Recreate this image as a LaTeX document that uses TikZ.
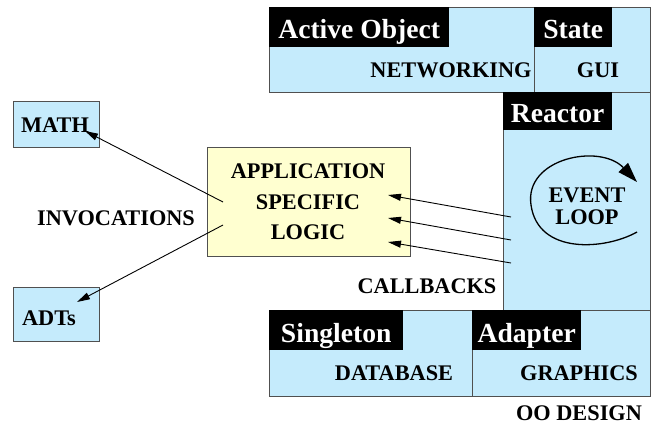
\documentclass[tikz,border=0pt]{standalone}
\usepackage{fontspec}
\setmainfont{Liberation Serif}
\usetikzlibrary{arrows.meta}
\definecolor{pblue}{RGB}{197,235,252}
\definecolor{pyellow}{RGB}{255,255,208}
\definecolor{pedge}{RGB}{80,80,80}
\tikzset{
  region/.style={draw=pedge, line width=1pt, fill=pblue, anchor=north west, inner sep=0pt},
  tag/.style={fill=black, text=white, anchor=north west, inner sep=0pt, minimum height=40pt,
    text height=31pt, text depth=9pt,
    font=\fontsize{27.6}{30}\selectfont\bfseries},
  txt/.style={inner sep=0pt, font=\fontsize{22.3}{26}\selectfont\bfseries},
  conn/.style={line width=0.9pt, -{Triangle[length=13pt,width=7pt]}},
}
\begin{document}
\begin{tikzpicture}[x=1pt,y=-1pt]
\useasboundingbox (0,0) rectangle (660,429);
% regions
\node[region, minimum width=265pt, minimum height=85pt] (ao) at (269,7) {};
\node[region, minimum width=116pt, minimum height=85pt] (st) at (534,7) {};
\node[region, minimum width=147pt, minimum height=218pt] (re) at (503,92) {};
\node[region, minimum width=203pt, minimum height=86pt] (si) at (269,310) {};
\node[region, minimum width=178pt, minimum height=86pt] (ad) at (472,310) {};
% tags
\node[tag, minimum width=180pt] (aotag) at (269,7) {Active Object};
\node[tag, minimum width=78pt] (sttag) at (534,7) {State};
\node[tag, minimum width=109pt, minimum height=38pt, text height=30pt, text depth=8pt] (retag) at (503,92) {Reactor};
\node[tag, minimum width=134pt, text height=32pt, text depth=8pt] (sitag) at (269,310) {Singleton};
\node[tag, minimum width=109pt, text height=32pt, text depth=8pt] (adtag) at (472,310) {Adapter};
% region texts
\node[txt] (net) at (451,70) {NETWORKING};
\node[txt] (gui) at (598,70) {GUI};
\node[txt] (db) at (394,373) {DATABASE};
\node[txt] (gr) at (579,373) {GRAPHICS};
\node[txt] (oo) at (579,413) {OO DESIGN};
\node[txt, align=center, font=\fontsize{22.3}{22.3}\selectfont\bfseries] (ev) at (587,206) {EVENT\\LOOP};
% application box
\node[draw=pedge, line width=1pt, fill=pyellow, minimum width=203pt, minimum height=109pt, inner sep=0pt] (app) at (308.5,201.5) {};
\node[txt] (l1) at (308,171) {APPLICATION};
\node[txt] (l2) at (308,202) {SPECIFIC};
\node[txt] (l3) at (308,232) {LOGIC};
% side boxes
\node[draw=pedge, line width=1pt, fill=pblue, minimum width=86pt, minimum height=46pt, inner sep=0pt] (math) at (56,124) {};
\node[txt] (mtx) at (55,125) {MATH};
\node[draw=pedge, line width=1pt, fill=pblue, minimum width=86pt, minimum height=54pt, inner sep=0pt] (adts) at (56,314) {};
\node[txt] (atx) at (49,318) {ADTs};
\node[txt] (inv) at (116,218) {INVOCATIONS};
\node[txt] (cb) at (427,286) {CALLBACKS};
% connector endpoints
\coordinate (m0) at (223,202);
\coordinate (m1) at (85,131);
\coordinate (a0) at (223,225);
\coordinate (a1) at (77,302);
\coordinate (c1s) at (511,217);
\coordinate (c1e) at (388,195);
\coordinate (c2s) at (511,240);
\coordinate (c2e) at (388,218);
\coordinate (c3s) at (511,263);
\coordinate (c3e) at (388,242);
\draw[conn] (m0) -- (m1);
\draw[conn] (a0) -- (a1);
\draw[conn] (c1s) -- (c1e);
\draw[conn] (c2s) -- (c2e);
\draw[conn] (c3s) -- (c3e);
% event loop
\coordinate (e0) at (637,232);
\coordinate (e1) at (531,205);
\coordinate (e2) at (637,182);
\draw[line width=1.3pt, -{Triangle[length=20pt,width=13pt]}] (e0) .. controls (605,250) and (538,255) .. (e1) .. controls (524,158) and (600,143) .. (e2);
\end{tikzpicture}
\end{document}
